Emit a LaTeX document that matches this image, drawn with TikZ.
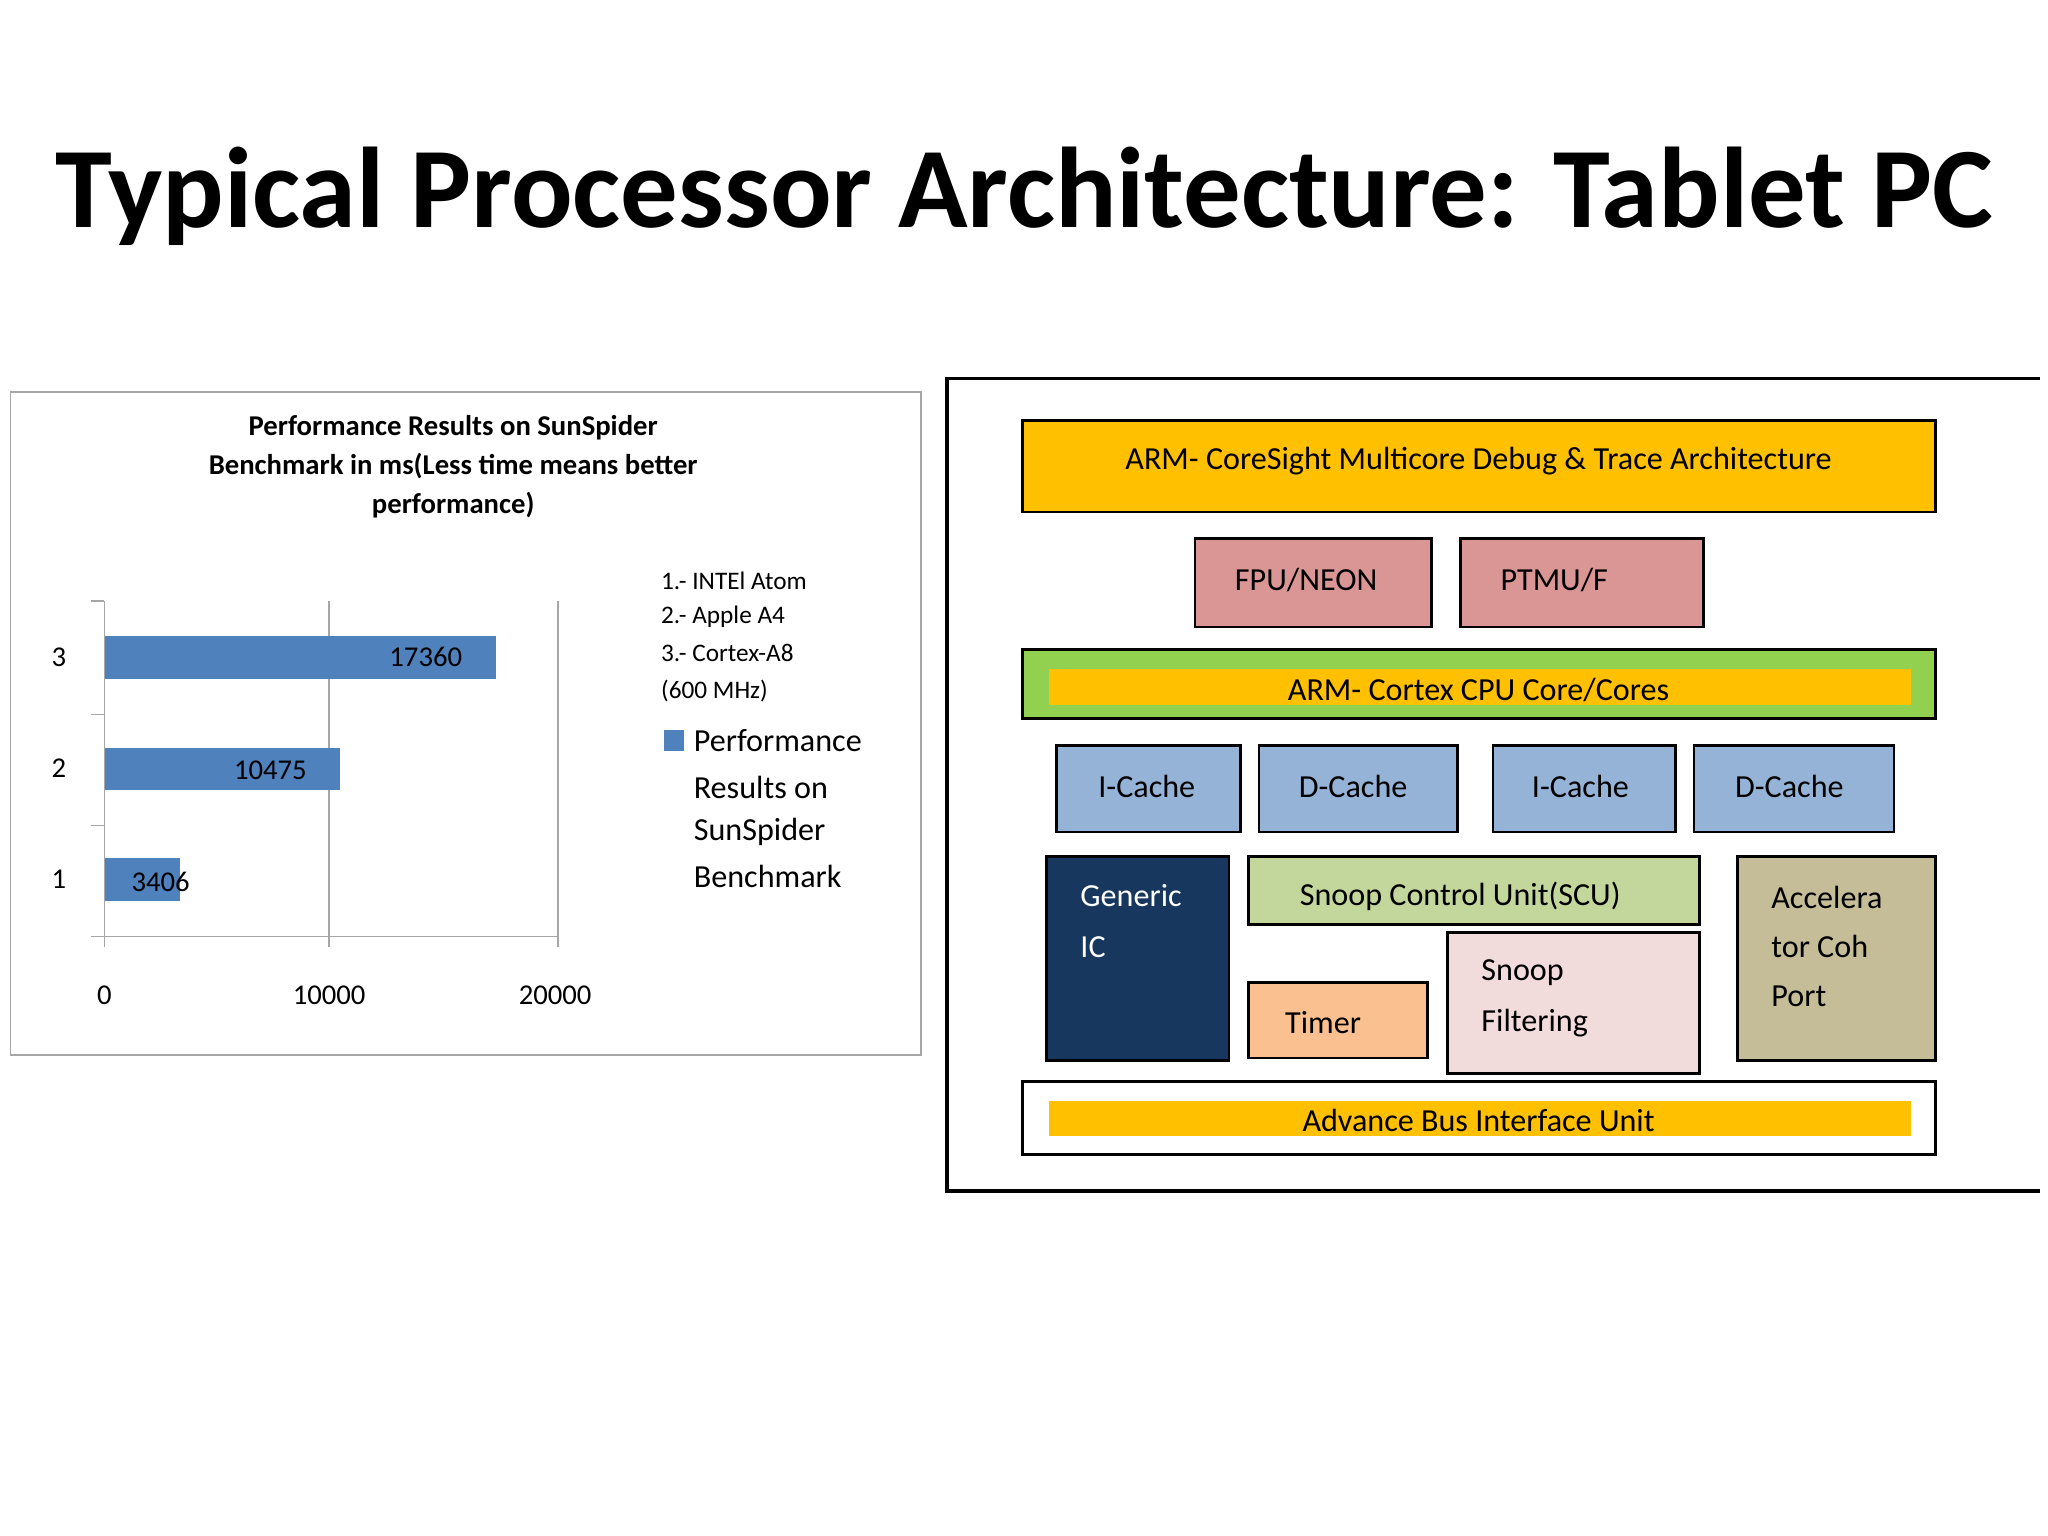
\documentclass[tikz,border=0pt]{standalone}
\usepackage{fontspec}
\setmainfont{Carlito}
\definecolor{gold}{HTML}{FFC000}
\definecolor{bar}{HTML}{4F81BD}
\definecolor{rose}{HTML}{D99694}
\definecolor{lgreen}{HTML}{92D050}
\definecolor{cache}{HTML}{95B3D7}
\definecolor{navy}{HTML}{17375E}
\definecolor{scu}{HTML}{C3D69B}
\definecolor{timer}{HTML}{FAC090}
\definecolor{snoop}{HTML}{F2DCDB}
\definecolor{accel}{HTML}{C4BD97}
\tikzset{
 blk/.style={draw=black,line width=1.2pt},
 bt/.style={font=\fontsize{14}{16}\selectfont},
 ct/.style={font=\fontsize{12.5}{15}\selectfont},
 ax/.style={draw=gray!70,line width=0.8pt}
}
\begin{document}
\begin{tikzpicture}[x=0.02cm,y=-0.02cm]
\useasboundingbox (0,0) rectangle (1568,1176);
\node[font=\bfseries\fontsize{50}{56}\selectfont] (title) at (784,150) {Typical Processor Architecture: Tablet PC};
% chart
\draw[ax] (8,300) rectangle (705,808);
\node[ct,align=center,font=\bfseries\fontsize{12.5}{17}\selectfont] (ctitle) at (347,357) {Performance Results on SunSpider\\Benchmark in ms(Less time means better\\performance)};
\foreach \x in {252,427}{\draw[ax] (\x,460) -- (\x,717);}
\fill[bar] (80,487) rectangle (380,520);
\fill[bar] (80,573) rectangle (260,605);
\fill[bar] (80,657) rectangle (138,690);
\draw[ax] (80,460) -- (80,717) -- (427,717);
\foreach \y in {460,547,632,717}{\draw[ax] (70,\y) -- (80,\y);}
\foreach \x in {80,252,427}{\draw[ax] (\x,717) -- (\x,725);}
\node[ct] (l3) at (45,503) {3};
\node[ct] (l2) at (45,588) {2};
\node[ct] (l1) at (45,673) {1};
\node[ct] (v3) at (326,503) {17360};
\node[ct] (v2) at (207,590) {10475};
\node[ct] (v1) at (123,675) {3406};
\node[ct] (x0) at (80,762) {0};
\node[ct] (x1) at (252,762) {10000};
\node[ct] (x2) at (425,762) {20000};
\node[anchor=west,font=\fontsize{11}{13}\selectfont] (g1) at (500,445) {1.- INTEl Atom};
\node[anchor=west,font=\fontsize{11}{13}\selectfont] (g2) at (500,472) {2.- Apple A4};
\node[anchor=west,font=\fontsize{11}{13}\selectfont] (g3) at (500,500) {3.- Cortex-A8};
\node[anchor=west,font=\fontsize{11}{13}\selectfont] (g4) at (500,529) {(600 MHz)};
\fill[bar] (508,559) rectangle (524,575);
\node[anchor=west,bt] (p1) at (525,567) {Performance};
\node[anchor=west,bt] (p2) at (525,603) {Results on};
\node[anchor=west,bt] (p3) at (525,637) {SunSpider};
\node[anchor=west,bt] (p4) at (525,671) {Benchmark};
% architecture
\draw[line width=1.5pt] (1562,290) -- (725,290) -- (725,912) -- (1562,912);
\path[blk,fill=gold] (783,322) rectangle (1482,392);
\node[bt] (cs) at (1132,353) {ARM- CoreSight Multicore Debug \& Trace Architecture};
\path[blk,fill=rose] (915,412) rectangle (1096,480);
\node[bt] (fpu) at (1000,444) {FPU/NEON};
\path[blk,fill=rose] (1118,412) rectangle (1304,480);
\node[bt] (ptm) at (1190,444) {PTMU/F};
\path[blk,fill=lgreen] (783,497) rectangle (1482,550);
\fill[gold] (803,512) rectangle (1463,540);
\node[bt] (cpu) at (1132,528) {ARM- Cortex CPU Core/Cores};
\path[blk,fill=cache] (809,571) rectangle (950,637);
\node[bt] (ic1) at (878,602) {I-Cache};
\path[blk,fill=cache] (964,571) rectangle (1116,637);
\node[bt] (dc1) at (1036,602) {D-Cache};
\path[blk,fill=cache] (1143,571) rectangle (1283,637);
\node[bt] (ic2) at (1210,602) {I-Cache};
\path[blk,fill=cache] (1297,571) rectangle (1450,637);
\node[bt] (dc2) at (1370,602) {D-Cache};
\path[blk,fill=navy] (801,656) rectangle (941,812);
\node[bt,text=white,anchor=west] (gic1) at (821,686) {Generic};
\node[bt,text=white,anchor=west] (gic2) at (821,725) {IC};
\path[blk,fill=scu] (956,656) rectangle (1301,708);
\node[bt] (scuu) at (1118,686) {Snoop Control Unit(SCU)};
\path[blk,fill=timer] (956,752) rectangle (1093,810);
\node[bt] (tim) at (1013,783) {Timer};
\path[blk,fill=snoop] (1108,714) rectangle (1301,822);
\node[bt,anchor=west] (sf1) at (1128,745) {Snoop};
\node[bt,anchor=west] (sf2) at (1128,783) {Filtering};
\path[blk,fill=accel] (1330,656) rectangle (1482,812);
\node[bt,anchor=west] (ac1) at (1350,687) {Accelera};
\node[bt,anchor=west] (ac2) at (1350,725) {tor Coh};
\node[bt,anchor=west] (ac3) at (1350,763) {Port};
\path[blk,fill=white] (783,828) rectangle (1482,884);
\fill[gold] (803,843) rectangle (1463,870);
\node[bt] (bus) at (1132,858) {Advance Bus Interface Unit};
\end{tikzpicture}
\end{document}
